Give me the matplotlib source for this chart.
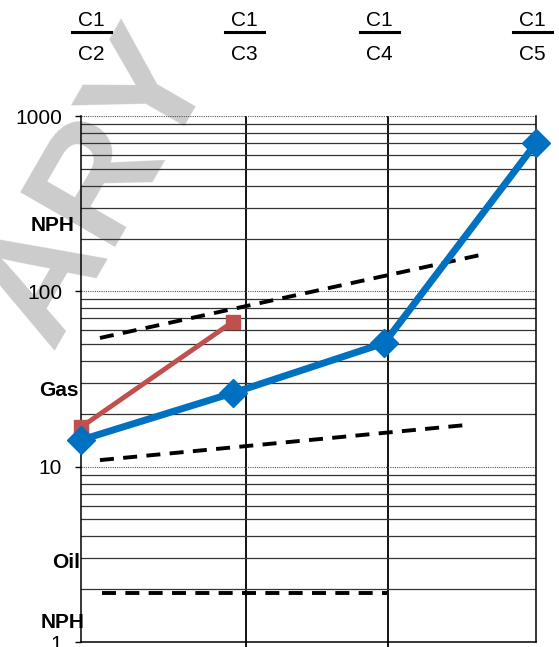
import matplotlib
matplotlib.use("Agg")
import matplotlib.pyplot as plt
from matplotlib.lines import Line2D
from matplotlib.ticker import FixedLocator, LogLocator, NullFormatter
import matplotlib.transforms as mtransforms

plt.rcParams['font.family'] = ['Liberation Sans', 'DejaVu Sans']

# Ratio categories (numerator over denominator)
numerators = ["C1", "C1", "C1", "C1"]
denominators = ["C2", "C3", "C4", "C5"]
category_x = [0, 1, 2, 3]

# Measured ratios
blue_ratio = [14.2, 26.3, 50.7, 701]
red_x = [0, 1]
red_ratio = [16.8, 66.9]

# Interpretation boundaries (dashed)
upper_bound_x = [0.125, 2.63]
upper_bound_y = [54.2, 161]
lower_bound_x = [0.125, 2.545]
lower_bound_y = [10.9, 17.3]
oil_bound_x = [0.14, 2.02]
oil_bound_y = [1.9, 1.9]

# Section dividers and zone labels
divider_x = [1.088, 2.024]
label_x = [0.066, 1.075, 1.965, 2.974]
zone_labels = ["NPH", "Gas", "Oil", "NPH"]
zone_label_y = [226, 391, 563, 623]
zone_label_right = [75, 79, 80, 85]

W, H = 559, 647
fig = plt.figure(figsize=(W / 100, H / 100), dpi=100)
ax = fig.add_axes([81 / W, 1 - 642 / H, (536 - 81) / W, (642 - 116) / H])
ax.patch.set_alpha(0)

ax.set_yscale('log')
ax.set_ylim(1, 1000)
ax.set_xlim(0, 3)

# y ticks and grid
ax.yaxis.set_major_locator(FixedLocator([1, 10, 100, 1000]))
ax.set_yticklabels(["1", "10", "100", "1000"])
ax.yaxis.set_minor_locator(LogLocator(base=10, subs=range(2, 10)))
ax.yaxis.set_minor_formatter(NullFormatter())
ax.tick_params(axis='y', which='major', direction='out', length=4.5, width=1,
               labelsize=15, pad=9, colors='black')
ax.tick_params(axis='y', which='minor', length=0)
ax.yaxis.grid(True, which='minor', color='#333333', lw=0.9, ls='-')
ax.yaxis.grid(True, which='major', color='#555555', lw=0.8, ls=(0, (1, 1)))

# x dividers as ticks + grid
ax.set_xticks(divider_x)
ax.set_xticklabels([])
ax.tick_params(axis='x', direction='out', length=4, width=1.3, colors='black')
ax.xaxis.grid(True, color='black', lw=1.3, ls='-')
ax.set_axisbelow(True)

ax.spines['top'].set_visible(False)
for s in ['left', 'right', 'bottom']:
    ax.spines[s].set_color('black')
    ax.spines[s].set_linewidth(1.1)

# Dashed boundaries
dash = (0, (3.6, 2.4))
for bx, by in [(upper_bound_x, upper_bound_y), (lower_bound_x, lower_bound_y),
               (oil_bound_x, oil_bound_y)]:
    ax.plot(bx, by, color='black', lw=2.8, ls=dash, zorder=3)

# Data series
ax.plot(red_x, red_ratio, color='#C0504D', lw=3.5, marker='s', markersize=10,
        zorder=4, clip_on=False)
ax.plot(category_x, blue_ratio, color='#0070C0', lw=5, marker='D', markersize=14,
        zorder=5, clip_on=False)

# Fraction labels above the plot
trans = mtransforms.blended_transform_factory(ax.transData, fig.transFigure)
for lx, num, den in zip(label_x, numerators, denominators):
    ax.text(lx, 1 - 20 / H, num, transform=trans, ha='center', va='center',
            fontsize=15, clip_on=False)
    ax.text(lx, 1 - 55 / H, den, transform=trans, ha='center', va='center',
            fontsize=15, clip_on=False)
    xpix = ax.transData.transform((lx, 1))[0]
    fig.add_artist(Line2D([(xpix - 19.5) / W, (xpix + 19.5) / W],
                          [1 - 32 / H, 1 - 32 / H], transform=fig.transFigure,
                          color='black', lw=2.2))

# Zone labels along the left side
for txt, py, pr in zip(zone_labels, zone_label_y, zone_label_right):
    fig.text(pr / W, 1 - py / H, txt, ha='right', va='center', fontsize=15,
             fontweight='bold', zorder=6)

# Watermark
fig.text(98 / W, 1 - 188 / H, "ARY", ha='center', va='center', rotation=60,
         rotation_mode='anchor', fontsize=114, fontweight='bold',
         color='#cccccc', zorder=-1)

fig.savefig("out.png", dpi=100)
